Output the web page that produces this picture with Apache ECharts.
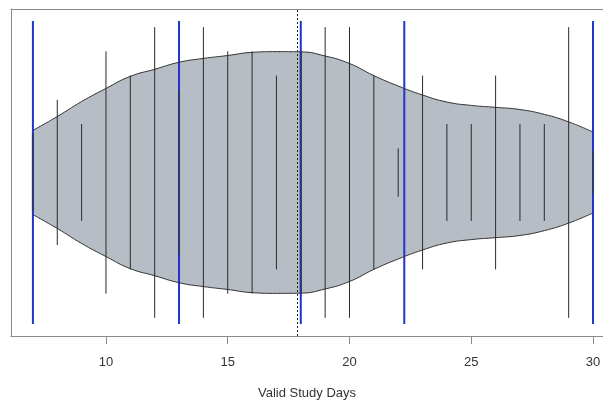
<!DOCTYPE html>
<html>
<head>
<meta charset="utf-8">
<script src="https://cdn.jsdelivr.net/npm/echarts@6/dist/echarts.min.js"></script>
<style>
  html, body { margin: 0; padding: 0; background: #fff; }
  #main { width: 603px; height: 401px; }
</style>
</head>
<body>
<div id="main"></div>
<script>
// study days observed (one beanline per value)
var days = [7, 8, 9, 10, 11, 12, 13, 14, 15, 16, 17, 18, 19, 20, 21, 22, 23, 24, 25, 26, 27, 28, 29, 30];
// beanline half length (in "count" units)
var lineCounts = [1.6, 3, 2, 5, 4, 6, 3.4, 6, 5, 5, 4, 5, 6, 6, 4, 1, 4, 2, 2, 4, 2, 2, 6, 0.9];
// half width of the bean (density) at each day
var beanWidth = [1.74, 2.31, 2.93, 3.47, 3.97, 4.26, 4.55, 4.71, 4.83, 4.96, 4.99, 4.98,
  4.81, 4.50, 4.00, 3.57, 3.20, 2.91, 2.77, 2.69, 2.60, 2.40, 2.09, 1.67];
// min, quartiles, max (blue lines)
var quantiles = [7, 13, 18, 22.25, 30];
var quantileHalf = 6.25;
var meanDays = 17.87;
var xTicks = [10, 15, 20, 25, 30];

var chart = echarts.init(document.getElementById('main'), null, { renderer: 'canvas' });

function vline(style) {
  return function (params, api) {
    var x = api.value(0);
    var h = api.value(1);
    var p1 = api.coord([x, h]);
    var p2 = api.coord([x, -h]);
    var s = style(x);
    return {
      type: 'line',
      shape: { x1: p1[0], y1: p1[1], x2: p2[0], y2: p2[1] },
      style: { stroke: s[0], lineWidth: s[1] }
    };
  };
}

var gray = '#b6bdc4';
var frame = '#8a8a8a';

var option = {
  animation: false,
  grid: { left: 11, top: 9, right: 0, height: 327, outerBoundsMode: 'none', containLabel: false },
  xAxis: [{
    type: 'value',
    min: 6.1,
    max: 30.41,
    name: 'Valid Study Days',
    nameLocation: 'middle',
    nameGap: 51,
    nameTextStyle: { fontFamily: 'Liberation Sans', fontSize: 13, color: '#333' },
    axisLine: { show: true, onZero: false, lineStyle: { color: frame } },
    splitLine: { show: false },
    axisTick: { show: true, length: 8, customValues: xTicks, lineStyle: { color: frame } },
    axisLabel: {
      customValues: xTicks, margin: 20,
      fontFamily: 'Liberation Sans', fontSize: 13, color: '#333'
    }
  }, {
    // top edge of the box
    type: 'value', position: 'top', min: 6.1, max: 30.41,
    axisLine: { show: true, onZero: false, lineStyle: { color: frame } },
    axisTick: { show: false }, axisLabel: { show: false }, splitLine: { show: false }
  }],
  yAxis: {
    type: 'value', min: -6.75, max: 6.75,
    axisLine: { show: true, onZero: false, lineStyle: { color: frame } },
    axisTick: { show: false }, axisLabel: { show: false },
    splitLine: { show: false }
  },
  series: [
    {
      // upper half of the bean, filled a bit past the centre so no seam shows
      type: 'line', smooth: true, symbol: 'none',
      data: days.map(function (d, i) { return [d, beanWidth[i]]; }),
      lineStyle: { color: '#333', width: 1 },
      areaStyle: { color: gray, opacity: 1, origin: -1 }
    },
    {
      type: 'line', smooth: true, symbol: 'none',
      data: days.map(function (d, i) { return [d, -beanWidth[i]]; }),
      lineStyle: { color: '#333', width: 1 },
      areaStyle: { color: gray, opacity: 1, origin: 0 }
    },
    {
      type: 'custom',
      renderItem: vline(function () { return ['#1f35cc', 2]; }),
      data: quantiles.map(function (q) { return [q, quantileHalf]; }),
      z: 3
    },
    {
      type: 'custom',
      renderItem: vline(function (x) {
        return quantiles.indexOf(x) >= 0 ? ['#2b3577', 2] : ['#2a2a2a', 1];
      }),
      data: days.map(function (d, i) { return [d, lineCounts[i]]; }),
      z: 4,
      markLine: {
        silent: true, symbol: 'none',
        label: { show: false },
        lineStyle: { color: '#222', type: [2, 2], width: 1 },
        data: [{ xAxis: meanDays }]
      }
    }
  ]
};
chart.setOption(option);
</script>
</body>
</html>
